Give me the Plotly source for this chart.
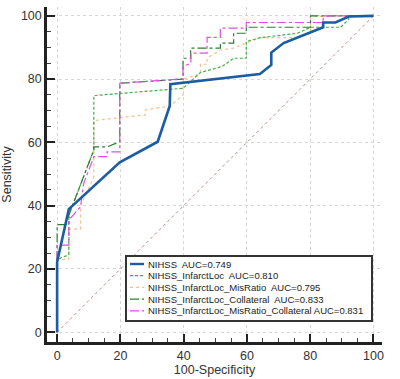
import plotly.graph_objects as go

# NIHSS
nihss_x = [0, 0, 3.7, 19.8, 31.8, 35.6, 35.8, 64.1, 67.7, 67.7, 71.6, 84.1, 84.1, 88, 92.2, 100]
nihss_y = [0, 22.2, 38.9, 53.7, 60.2, 71.5, 78.4, 81.6, 84.5, 88.4, 91.4, 96.4, 97.9, 97.9, 99.8, 100]

# NIHSS_InfarctLoc
loc_x = [0, 0, 3.7, 3.7, 11.6, 11.6, 39.8, 45.3, 52.2, 55.8, 59.8, 59.8, 64.3, 75.9, 80.1, 89.6, 92.2, 92.2, 100]
loc_y = [0, 23, 24.5, 37, 57.6, 74.8, 77.1, 82.1, 84, 86.6, 86.6, 91.9, 93.1, 94.5, 96.4, 96.4, 98.9, 100, 100]

# NIHSS_InfarctLoc_MisRatio
mis_x = [0, 0, 3.7, 3.7, 7.4, 7.4, 11.6, 11.6, 27.9, 27.9, 35.8, 39.8, 39.8, 45.3, 45.3, 47.4, 47.4, 51.6, 55.8, 64.1, 75.9, 80.1, 80.1, 100]
mis_y = [0, 23, 23, 32.6, 32.6, 40, 49, 66.9, 68.7, 70.3, 71.5, 75, 80, 81.6, 84.7, 84.7, 86.6, 89.2, 89.8, 93.1, 93.1, 94.5, 99.8, 100]

# NIHSS_InfarctLoc_Collateral
col_x = [0, 0, 3.7, 3.7, 11.6, 11.6, 15.8, 19.8, 19.8, 39.8, 39.8, 42.2, 42.2, 51.6, 51.6, 55.8, 55.8, 59.8, 59.8, 80.1, 80.1, 100]
col_y = [0, 34, 34, 37, 57.6, 58.6, 58.6, 60.2, 78.7, 80, 86.6, 86.6, 89.8, 89.8, 91.4, 91.4, 94.5, 94.5, 96.4, 96.4, 100, 100]

# NIHSS_InfarctLoc_MisRatio_Collateral
mc_x = [0, 0, 3.7, 3.7, 7.4, 8.4, 11.6, 15.8, 15.8, 19.8, 19.8, 39.8, 39.8, 42.3, 42.3, 47.4, 47.4, 51.6, 51.6, 59.8, 59.8, 84.1, 84.1, 100]
mc_y = [0, 27.5, 27.5, 35.4, 39.7, 47, 55.5, 55.5, 57, 57, 78.7, 80.1, 84, 85, 88.2, 88.2, 93.2, 93.2, 96.1, 96.1, 97.9, 97.9, 100, 100]

diag = [0, 100]
tick_vals = [0, 20, 40, 60, 80, 100]

names = ["NIHSS  AUC=0.749", "NIHSS_InfarctLoc  AUC=0.810", "NIHSS_InfarctLoc_MisRatio  AUC=0.795",
         "NIHSS_InfarctLoc_Collateral  AUC=0.833", "NIHSS_InfarctLoc_MisRatio_Collateral AUC=0.831"]

styles = [
    dict(color="#1b5ca3", width=2.6, dash="solid"),
    dict(color="#45ad45", width=1.2, dash="3px,2px"),
    dict(color="#f2c08c", width=1.2, dash="dot"),
    dict(color="#2f7d32", width=1.2, dash="dashdot"),
    dict(color="#e050e0", width=1.2, dash="dashdot"),
]

fig = go.Figure()
fig.add_trace(go.Scatter(x=diag, y=diag, mode="lines", showlegend=False,
                         line=dict(color="#c48a8a", width=1, dash="dot")))
series = [(nihss_x, nihss_y), (loc_x, loc_y), (mis_x, mis_y), (col_x, col_y), (mc_x, mc_y)]
for idx in [2, 1, 3, 4, 0]:
    sx, sy = series[idx]
    fig.add_trace(go.Scatter(x=sx, y=sy, mode="lines", name=names[idx], showlegend=False,
                             line=styles[idx]))

axis_common = dict(
    tickvals=tick_vals, ticks="inside", ticklen=8, tickwidth=2, tickcolor="#222",
    showline=True, linecolor="#222", linewidth=2.5,
    showgrid=True, gridcolor="#d6d6d6", griddash="dot", gridwidth=1,
    zeroline=False, tickfont=dict(size=12.5, color="#333"), automargin=False,
    minor=dict(dtick=5, ticks="inside", ticklen=4, tickwidth=1, tickcolor="#444", showgrid=False),
)
fig.update_xaxes(range=[-3.2, 102.7], title=dict(text="100-Specificity", font=dict(size=12.5, color="#333"), standoff=3),
                 **axis_common)
fig.update_yaxes(range=[-3.1, 102.8], title=dict(text="Sensitivity", font=dict(size=12.5, color="#333"), standoff=9),
                 **axis_common)

# custom compact legend (paper coordinates of the plot area)
L, R, T, B = 47, 382, 7, 342
W, H = R - L, B - T
def px(xp):
    return (xp - L) / W
def py(yp):
    return (B - yp) / H

fig.add_shape(type="rect", xref="paper", yref="paper",
              x0=px(126), x1=px(372), y0=py(321), y1=py(256),
              line=dict(color="#333", width=2), fillcolor="white", layer="above")
row_y = [264, 275.7, 287.4, 299.1, 310.8]
for i, nm in enumerate(names):
    st = styles[i]
    fig.add_shape(type="line", xref="paper", yref="paper",
                  x0=px(130), x1=px(144), y0=py(row_y[i]), y1=py(row_y[i]),
                  line=dict(color=st["color"], width=min(st["width"], 2.4),
                            dash=st["dash"]), layer="above")
    fig.add_annotation(x=px(146), y=py(row_y[i]), xref="paper", yref="paper",
                       text=nm, showarrow=False, xanchor="left", yanchor="middle",
                       font=dict(size=9.5, color="#222"))

fig.update_layout(
    width=400, height=379,
    margin=dict(l=L, r=400 - R, t=T, b=379 - B, autoexpand=False),
    paper_bgcolor="white", plot_bgcolor="white",
    font=dict(family="Arial, Liberation Sans, sans-serif", color="#222"),
    showlegend=False,
)

fig.write_html("out.html", config={"displayModeBar": False},
               post_script="document.body.style.margin='0';document.body.style.overflow='hidden';")
